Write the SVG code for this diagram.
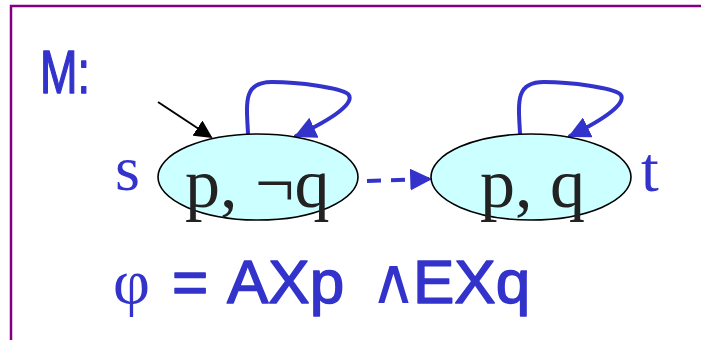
<svg xmlns="http://www.w3.org/2000/svg" width="701" height="340" viewBox="0 0 701 340">
<style>
.frame{fill:none;stroke:#800080;stroke-width:2.5}
.state{fill:#ccffff;stroke:#000;stroke-width:1.6}
.lbl{font-family:"Liberation Serif","Times New Roman",serif;font-size:70px;fill:#222}
.name{font-family:"Liberation Serif","Times New Roman",serif;font-size:64px;fill:#3333cc}
.hand{font-family:"Liberation Sans","DejaVu Sans",sans-serif;font-size:62px;fill:#3333cc;stroke:#3333cc;stroke-width:1.5;stroke-linejoin:round}
.loop{fill:none;stroke:#3333cc;stroke-width:4;stroke-linecap:round}
.dash{fill:none;stroke:#3333cc;stroke-width:4;stroke-dasharray:14,10}
.init{fill:none;stroke:#000;stroke-width:2}
</style>
<defs>
<marker id="ab" viewBox="0 0 10 10" refX="9" refY="5" markerWidth="5.5" markerHeight="5.5" markerUnits="strokeWidth" orient="auto"><path d="M0,0 L10,5 L0,10 Z" fill="#3333cc"/></marker>
<marker id="ak" viewBox="0 0 10 10" refX="9" refY="5" markerWidth="9" markerHeight="9" markerUnits="strokeWidth" orient="auto"><path d="M0,0 L10,5 L0,10 Z" fill="#000"/></marker>
</defs>
<rect class="frame" x="11" y="6" width="700" height="345"/>
<text class="hand" x="40" y="93" textLength="50" lengthAdjust="spacingAndGlyphs">M:</text>
<g id="connectors">
<path class="init" d="M158,102 L211,137" marker-end="url(#ak)"/>
<path class="loop" d="M248,133 C246,100 244,82 272,82 C300,82 340,88 348,94 C356,102 335,118 296,136" marker-end="url(#ab)"/>
<path class="loop" d="M520,133 C518,100 516,82 544,82 C572,82 612,88 620,94 C628,102 607,118 570,136" marker-end="url(#ab)"/>
<path class="dash" d="M367,181 L430,179" marker-end="url(#ab)"/>
</g>
<g id="s">
<ellipse class="state" cx="258" cy="177" rx="100" ry="43"/>
<text class="lbl" x="185" y="207">p, ¬q</text>
<text class="name" x="115" y="190">s</text>
</g>
<g id="t">
<ellipse class="state" cx="531" cy="177" rx="100" ry="43"/>
<text class="lbl" x="480" y="207">p, q</text>
<text class="name" x="641" y="191">t</text>
</g>
<g id="formula">
<text class="name" x="113" y="303">φ</text>
<text class="hand" x="172" y="303">=</text>
<text class="hand" x="227" y="303">AXp</text>
<text class="name" x="370" y="303" font-size="40">∧</text>
<text class="hand" x="413" y="303">EXq</text>
</g>
</svg>
